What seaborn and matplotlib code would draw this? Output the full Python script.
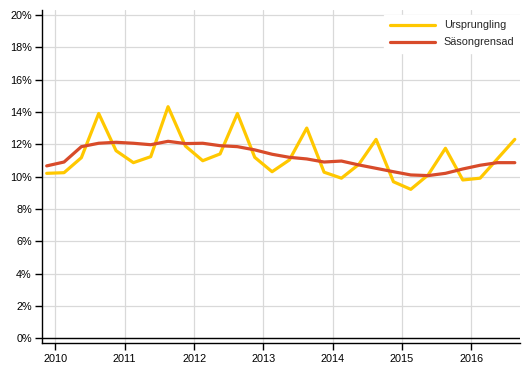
import matplotlib
matplotlib.use("Agg")
import matplotlib.pyplot as plt
from matplotlib.ticker import FuncFormatter
import numpy as np
import pandas as pd
import seaborn as sns

# quarterly points, 2009 Q4 .. 2016 Q3 (mid-quarter positions)
quarters = [2009.875 + 0.25 * i for i in range(28)]

ursprunglig = [10.2, 10.24, 11.17, 13.9, 11.6, 10.86, 11.23, 14.32, 11.89, 10.98,
               11.4, 13.9, 11.19, 10.3, 11.03, 13.0, 10.27, 9.9, 10.75, 12.3,
               9.68, 9.21, 10.1, 11.75, 9.79, 9.9, 11.1, 12.3]
sasongrensad = [10.66, 10.9, 11.85, 12.06, 12.12, 12.06, 11.97, 12.18, 12.04, 12.06,
                11.91, 11.85, 11.65, 11.38, 11.19, 11.09, 10.9, 10.96, 10.72, 10.51,
                10.3, 10.1, 10.06, 10.2, 10.47, 10.7, 10.86, 10.86]

series_names = ["Ursprungling", "Säsongrensad"]
colors = ["#FFC800", "#D84B2A"]
years = [2010, 2011, 2012, 2013, 2014, 2015, 2016]
y_ticks = [0, 2, 4, 6, 8, 10, 12, 14, 16, 18, 20]

df = pd.DataFrame({
    "x": quarters * 2,
    "value": ursprunglig + sasongrensad,
    "serie": [series_names[0]] * len(quarters) + [series_names[1]] * len(quarters),
})

sns.set_style("whitegrid")
plt.rcParams["font.family"] = ["Liberation Sans", "DejaVu Sans"]

fig = plt.figure(figsize=(5.29, 3.78), dpi=100)
ax = fig.add_axes([41.5 / 529, 1 - 343.3 / 378, (520 - 41.5) / 529, (343.3 - 10) / 378])

sns.lineplot(data=df, x="x", y="value", hue="serie", hue_order=series_names,
             palette=colors, linewidth=2.3, ax=ax)

ax.set_xlim(2009.80, 2016.70)
ax.set_ylim(-0.31, 20.3)
ax.set_xticks(years)
ax.set_xticklabels([str(y) for y in years])
ax.set_yticks(y_ticks)
ax.yaxis.set_major_formatter(FuncFormatter(lambda v, p: f"{int(v)}%"))
ax.set_xlabel("")
ax.set_ylabel("")

ax.grid(True, color="#D9D9D9", linewidth=0.9)
ax.axhline(0, color="black", linewidth=1.0, zorder=3)

for side in ["top", "right"]:
    ax.spines[side].set_visible(False)
for side in ["left", "bottom"]:
    ax.spines[side].set_visible(True)
    ax.spines[side].set_color("black")
    ax.spines[side].set_linewidth(1.0)

ax.tick_params(axis="both", which="both", length=5, width=1.0, color="black",
               labelsize=7.8, labelcolor="black", direction="out")
ax.tick_params(axis="y", pad=2)
ax.tick_params(axis="x", pad=3)
ax.xaxis.set_ticks_position("bottom")
ax.yaxis.set_ticks_position("left")

leg = ax.legend(loc="upper right", bbox_to_anchor=(1.0, 0.985), frameon=True,
                fontsize=7.8, handlelength=4.2, handletextpad=0.8,
                labelspacing=0.65, borderpad=0.5, borderaxespad=0.0)
leg.get_frame().set_facecolor("white")
leg.get_frame().set_edgecolor("white")
leg.get_frame().set_alpha(1.0)
leg.get_frame().set_boxstyle("square", pad=0)
for line in leg.get_lines():
    line.set_linewidth(2.3)

fig.savefig("out.png", dpi=100)
